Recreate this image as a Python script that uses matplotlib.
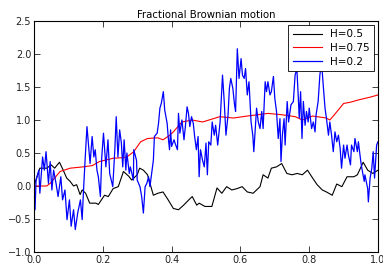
import numpy as np
import matplotlib
matplotlib.use("Agg")
import matplotlib.pyplot as plt

# values
h05_t = [0.0, 0.007, 0.017, 0.037, 0.05, 0.06, 0.074, 0.085, 0.095, 0.105, 0.115, 0.124,
         0.134, 0.14, 0.15, 0.162, 0.18, 0.187, 0.196, 0.205, 0.216, 0.23, 0.245, 0.26,
         0.275, 0.284, 0.30, 0.307, 0.318, 0.33, 0.347, 0.36, 0.375, 0.39, 0.405, 0.42,
         0.435, 0.45, 0.46, 0.473, 0.48, 0.497, 0.517, 0.532, 0.546, 0.56, 0.575, 0.59,
         0.605, 0.62, 0.637, 0.657, 0.666, 0.68, 0.69, 0.705, 0.72, 0.735, 0.75, 0.765,
         0.78, 0.795, 0.81, 0.823, 0.838, 0.85, 0.867, 0.88, 0.895, 0.91, 0.93, 0.94,
         0.957, 0.97, 0.985, 1.0]
h05_v = [0.0, 0.11, 0.27, 0.27, 0.32, 0.27, 0.36, 0.24, 0.12, 0.07, 0.0, 0.02,
         -0.13, -0.06, -0.11, -0.26, -0.26, -0.28, -0.21, -0.14, -0.16, -0.04, -0.01, 0.22,
         0.15, 0.09, 0.17, 0.27, 0.24, 0.17, -0.14, -0.11, -0.09, -0.21, -0.34, -0.36,
         -0.29, -0.21, -0.16, -0.29, -0.26, -0.31, -0.31, -0.03, -0.11, -0.01, -0.06, -0.04,
         -0.01, -0.09, -0.11, -0.01, 0.17, 0.12, 0.27, 0.29, 0.34, 0.19, 0.17, 0.19,
         0.17, 0.24, 0.12, 0.02, -0.06, -0.09, -0.14, 0.03, -0.01, 0.14, 0.14, 0.17,
         0.36, 0.24, 0.19, 0.24]

h075_t = [0.0, 0.037, 0.047, 0.076, 0.105, 0.143, 0.17, 0.19, 0.23, 0.26, 0.27, 0.29,
          0.31, 0.33, 0.36, 0.375, 0.395, 0.405, 0.43, 0.46, 0.49, 0.54, 0.58, 0.62,
          0.68, 0.72, 0.76, 0.78, 0.81, 0.85, 0.86, 0.87, 0.90, 0.92, 0.94, 0.98, 1.0]
h075_v = [0.0, 0.0, 0.04, 0.22, 0.27, 0.29, 0.31, 0.37, 0.42, 0.43, 0.44, 0.52,
          0.67, 0.72, 0.73, 0.70, 0.77, 0.82, 0.97, 1.0, 0.97, 1.05, 1.03, 1.06,
          1.10, 1.08, 1.05, 1.0, 1.06, 1.03, 1.0, 1.06, 1.25, 1.27, 1.30, 1.35, 1.38]

h02_t = [0.0, 0.003, 0.006, 0.014, 0.017, 0.025, 0.03, 0.035, 0.042, 0.047, 0.052, 0.057,
         0.064, 0.07, 0.078, 0.083, 0.09, 0.096, 0.103, 0.108, 0.115, 0.12, 0.127, 0.135,
         0.14, 0.144, 0.149, 0.154, 0.158, 0.163, 0.169, 0.174, 0.178, 0.183, 0.187, 0.193,
         0.197, 0.202, 0.209, 0.215, 0.22, 0.229, 0.235, 0.239, 0.244, 0.249, 0.254, 0.258,
         0.262, 0.267, 0.27, 0.277, 0.28, 0.289, 0.29, 0.298, 0.30, 0.308, 0.313, 0.318,
         0.323, 0.328, 0.333, 0.337, 0.342, 0.347, 0.35, 0.358, 0.362, 0.366, 0.37, 0.376,
         0.38, 0.387, 0.39, 0.394, 0.397, 0.40, 0.407, 0.41, 0.417, 0.42, 0.424, 0.43,
         0.436, 0.44, 0.445, 0.449, 0.453, 0.458, 0.463, 0.467, 0.472, 0.477, 0.48, 0.484,
         0.49, 0.495, 0.50, 0.504, 0.508, 0.514, 0.518, 0.524, 0.528, 0.534, 0.541, 0.548,
         0.553, 0.558, 0.564, 0.568, 0.572, 0.578, 0.583, 0.586, 0.591, 0.596, 0.602, 0.606,
         0.611, 0.615, 0.62, 0.625, 0.631, 0.636, 0.639, 0.642, 0.647, 0.652, 0.657, 0.662,
         0.666, 0.672, 0.676, 0.68, 0.686, 0.69, 0.696, 0.70, 0.705, 0.71, 0.715, 0.718,
         0.722, 0.727, 0.73, 0.736, 0.74, 0.747, 0.754, 0.759, 0.764, 0.768, 0.771, 0.775,
         0.779, 0.783, 0.788, 0.792, 0.797, 0.80, 0.807, 0.812, 0.817, 0.82, 0.826, 0.831,
         0.836, 0.84, 0.846, 0.85, 0.856, 0.86, 0.865, 0.87, 0.875, 0.88, 0.885, 0.89,
         0.894, 0.90, 0.904, 0.91, 0.914, 0.92, 0.923, 0.93, 0.933, 0.94, 0.943, 0.95,
         0.953, 0.96, 0.962, 0.97, 0.972, 0.977, 0.982, 0.986, 0.99, 0.996, 1.0]
h02_v = [-0.06, -0.36, 0.09, 0.24, -0.11, 0.44, 0.24, 0.52, 0.04, 0.37, -0.06, 0.24,
         0.04, -0.16, 0.14, -0.21, -0.06, -0.51, -0.21, -0.61, -0.36, -0.66, -0.41, -0.21,
         -0.51, -0.06, 0.44, 0.90, 0.65, 0.34, 0.75, 0.44, 0.55, 0.24, 0.14, -0.16,
         0.44, 0.80, 0.29, 0.70, 0.19, -0.01, 0.55, 1.05, 0.44, 0.85, 0.65, 0.29,
         0.70, 0.24, 0.50, 0.19, 0.29, 0.09, 0.55, 0.39, 0.09, -0.01, -0.16, -0.41,
         -0.01, 0.04, 0.14, -0.01, 0.19, 0.39, 0.75, 0.80, 0.95, 1.18, 1.25, 1.43,
         1.15, 0.95, 0.75, 0.55, 0.85, 0.60, 0.70, 0.65, 0.55, 1.10, 0.80, 1.00,
         0.70, 0.90, 1.20, 1.10, 0.90, 1.05, 0.95, 0.75, 0.55, 0.75, 0.14, 0.55,
         0.39, 0.29, 0.65, 0.17, 0.67, 0.62, 0.97, 0.77, 0.92, 0.62, 0.97, 1.68,
         1.28, 0.77, 1.07, 1.48, 1.63, 1.48, 1.23, 1.13, 2.08, 1.63, 1.93, 1.68,
         1.63, 1.78, 1.38, 1.58, 0.97, 0.77, 0.52, 0.77, 1.18, 0.97, 0.87, 1.13,
         0.87, 1.58, 1.43, 1.58, 1.38, 1.43, 1.66, 1.33, 1.13, 0.72, 1.02, 0.37,
         0.77, 1.02, 0.62, 1.28, 0.97, 1.23, 1.28, 1.68, 1.78, 1.38, 1.03, 1.43,
         0.72, 1.28, 0.92, 1.13, 0.97, 1.18, 0.87, 0.97, 0.82, 1.08, 1.28, 1.68,
         1.88, 1.58, 1.18, 1.03, 0.77, 0.97, 0.77, 0.52, 0.82, 0.67, 0.77, 0.57,
         0.27, 0.62, 0.42, 0.62, 0.47, 0.32, 0.62, 0.52, 0.72, 0.52, 0.67, 0.37,
         0.27, 0.07, 0.17, -0.04, -0.24, 0.12, 0.27, 0.52, 0.12, 0.62, 0.67]

xticks = [0.0, 0.2, 0.4, 0.6, 0.8, 1.0]
yticks = [-1.0, -0.5, 0.0, 0.5, 1.0, 1.5, 2.0, 2.5]

plt.rcParams["font.size"] = 7
plt.rcParams["xtick.direction"] = "in"
plt.rcParams["ytick.direction"] = "in"
plt.rcParams["xtick.top"] = True
plt.rcParams["ytick.right"] = True

fig = plt.figure(figsize=(3.83, 2.65), dpi=100)
ax = fig.add_axes([34 / 383, 1 - 252 / 265, 344 / 383, 231 / 265])

ax.plot(h05_t, h05_v, color="black", lw=0.8, label="H=0.5")
ax.plot(h075_t, h075_v, color="red", lw=0.8, label="H=0.75")
ax.plot(h02_t, h02_v, color="blue", lw=0.9, label="H=0.2")

ax.set_xlim(0, 1)
ax.set_ylim(-1, 2.5)
ax.set_xticks(xticks)
ax.set_yticks(yticks)
ax.tick_params(length=4, width=0.6, pad=2, colors="#222222")
for s in ax.spines.values():
    s.set_linewidth(0.8)
ax.set_title("Fractional Brownian motion", fontsize=7.3, pad=2)

leg = ax.legend(loc="upper right", fontsize=7.5, fancybox=False, framealpha=1,
                edgecolor="black", handlelength=2.8, borderaxespad=0.4,
                labelspacing=0.35)
leg.get_frame().set_linewidth(0.6)

fig.savefig("out.png", dpi=100)
